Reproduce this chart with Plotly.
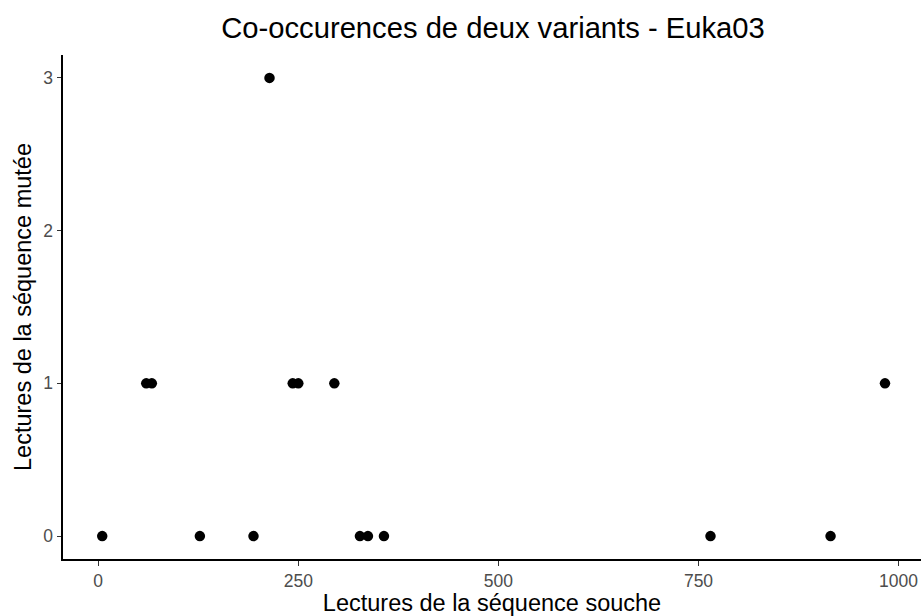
import plotly.graph_objects as go

# Data
souche = [5, 127, 194, 327, 337, 357, 765, 915,
          60, 67, 243, 250, 295, 983,
          214]
mutee = [0, 0, 0, 0, 0, 0, 0, 0,
         1, 1, 1, 1, 1, 1,
         3]
x_ticks = [0, 250, 500, 750, 1000]
y_ticks = [0, 1, 2, 3]

title = "Co-occurences de deux variants - Euka03"
x_title = "Lectures de la séquence souche"
y_title = "Lectures de la séquence mutée"

font_family = "Liberation Sans, Arial, Helvetica, sans-serif"

W, H = 921, 616

fig = go.Figure()
fig.add_trace(go.Scatter(
    x=souche, y=mutee, mode="markers",
    marker=dict(color="black", size=10.5),
    showlegend=False, hoverinfo="x+y", cliponaxis=False,
))

fig.update_layout(
    width=W, height=H,
    margin=dict(l=63, r=0, t=55, b=57, autoexpand=False),
    paper_bgcolor="white", plot_bgcolor="white",
    font=dict(family=font_family, color="black"),
    title=dict(text=title, x=493 / W, xanchor="center", xref="container",
               y=1 - 28 / H, yanchor="middle", yref="container",
               font=dict(size=29.2, color="black")),
)

fig.update_xaxes(
    range=[-44, 1028], tickvals=x_ticks, ticktext=[str(v) for v in x_ticks],
    showgrid=False, zeroline=False, automargin=False,
    showline=True, linecolor="black", linewidth=2,
    ticks="outside", ticklen=4.5, tickwidth=1.2, tickcolor="#333333",
    tickfont=dict(size=17.5, color="#4d4d4d"),
    title=dict(text=x_title, font=dict(size=23.5, color="black"), standoff=8),
)
fig.update_yaxes(
    range=[-0.15, 3.15], tickvals=y_ticks, ticktext=[str(v) for v in y_ticks],
    showgrid=False, zeroline=False, automargin=False,
    showline=True, linecolor="black", linewidth=2,
    ticks="outside", ticklen=4.5, tickwidth=1.2, tickcolor="#333333",
    tickfont=dict(size=17.5, color="#4d4d4d"),
    title=dict(text=y_title, font=dict(size=23.5, color="black"), standoff=5),
)

# remove the default 8px page margin so the figure fills the window exactly
fig.write_html(
    "out.html",
    config={"displayModeBar": False},
    post_script="document.body.style.margin='0';document.body.style.overflow='hidden';",
)
